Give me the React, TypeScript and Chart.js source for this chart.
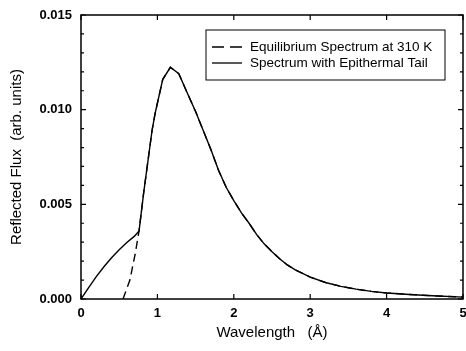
import React, { useEffect, useRef } from "react";
import { Chart, registerables } from "chart.js";

Chart.register(...registerables);

// Spectrum with epithermal tail (solid)
const tailWavelength = [0, 0.1, 0.2, 0.3, 0.4, 0.5, 0.6, 0.7, 0.76, 0.82, 0.93, 0.97, 1.07, 1.17, 1.28, 1.4, 1.5, 1.58, 1.7, 1.8, 1.9, 2.0, 2.1, 2.2, 2.3, 2.4, 2.5, 2.6, 2.7, 2.8, 2.9, 3.0, 3.2, 3.4, 3.6, 3.8, 4.0, 4.3, 4.6, 5.0];
const tailFlux = [0, 0.0006, 0.00118, 0.0017, 0.00218, 0.0026, 0.00298, 0.00332, 0.0036, 0.0056, 0.0089, 0.0098, 0.0116, 0.01224, 0.0119, 0.0108, 0.0099, 0.0091, 0.0079, 0.0068, 0.0059, 0.0052, 0.00455, 0.004, 0.0034, 0.0029, 0.0025, 0.00213, 0.0018, 0.00155, 0.00135, 0.00116, 0.00087, 0.00067, 0.00052, 0.0004, 0.00032, 0.00024, 0.00017, 0.0001];

// Equilibrium spectrum at 310 K (dashed): its own rise, then it joins the solid curve at 0.76 Å
const eqRiseWavelength = [0.55, 0.64, 0.71];
const eqRiseFlux = [0, 0.001, 0.0024];
const eqJoinWavelength = 0.76;

const xTicks = [0, 1, 2, 3, 4, 5];
const yMajorTicks = [0, 0.005, 0.01, 0.015];
const yMinorTicks = [0.001, 0.002, 0.003, 0.004, 0.006, 0.007, 0.008, 0.009, 0.011, 0.012, 0.013, 0.014];

const seriesLabels = ["Equilibrium Spectrum at 310 K", "Spectrum with Epithermal Tail"];
const xTitle = "Wavelength   (Å)";
const yTitle = "Reflected Flux  (arb. units)";

const FONT = "'Liberation Sans', Arial, Helvetica, sans-serif";

const frameTicksPlugin = {
  id: "frameTicks",
  afterDatasetsDraw(chart: any) {
    const { ctx, chartArea: a, scales } = chart;
    const xs = scales.x;
    const ys = scales.y;
    ctx.save();
    ctx.strokeStyle = "#000";
    ctx.lineWidth = 1.5;
    ctx.strokeRect(a.left, a.top, a.right - a.left, a.bottom - a.top);
    ctx.lineWidth = 1.2;
    ctx.beginPath();
    xTicks.forEach((v) => {
      const px = xs.getPixelForValue(v);
      ctx.moveTo(px, a.bottom);
      ctx.lineTo(px, a.bottom - 5);
      ctx.moveTo(px, a.top);
      ctx.lineTo(px, a.top + 5);
    });
    yMajorTicks.forEach((v) => {
      const py = ys.getPixelForValue(v);
      ctx.moveTo(a.left, py);
      ctx.lineTo(a.left + 5, py);
      ctx.moveTo(a.right, py);
      ctx.lineTo(a.right - 5, py);
    });
    yMinorTicks.forEach((v) => {
      const py = ys.getPixelForValue(v);
      ctx.moveTo(a.left, py);
      ctx.lineTo(a.left + 3, py);
      ctx.moveTo(a.right, py);
      ctx.lineTo(a.right - 3, py);
    });
    ctx.stroke();

    // legend box
    const bx = 206, by = 30, bw = 239, bh = 50;
    ctx.lineWidth = 1;
    ctx.strokeRect(bx, by, bw, bh);
    const rows = [47, 63];
    ctx.font = `13.5px ${FONT}`;
    ctx.fillStyle = "#000";
    ctx.textBaseline = "middle";
    ctx.textAlign = "left";
    chart.data.datasets.forEach((ds: any, i: number) => {
      const y = rows[i];
      ctx.beginPath();
      ctx.lineWidth = 1.3;
      ctx.setLineDash(ds.borderDash ? [12, 6] : []);
      ctx.moveTo(212, y);
      ctx.lineTo(242, y);
      ctx.stroke();
      ctx.setLineDash([]);
      ctx.fillText(ds.label, 250, y);
    });
    ctx.restore();
  },
};

export default function App() {
  const ref = useRef<HTMLCanvasElement>(null);
  useEffect(() => {
    document.body.style.margin = "0";
    const canvas = ref.current!;
    const tailPoints = tailWavelength.map((x, i) => ({ x, y: tailFlux[i] }));
    const eqPoints = [
      ...eqRiseWavelength.map((x, i) => ({ x, y: eqRiseFlux[i] })),
      ...tailPoints.filter((p) => p.x >= eqJoinWavelength),
    ];
    const chart = new Chart(canvas, {
      type: "line",
      data: {
        datasets: [
          {
            label: seriesLabels[0],
            data: eqPoints,
            borderColor: "#000",
            borderWidth: 1.4,
            borderDash: [8, 5],
            pointRadius: 0,
            tension: 0,
            fill: false,
          },
          {
            label: seriesLabels[1],
            data: tailPoints,
            borderColor: "#000",
            borderWidth: 1.4,
            pointRadius: 0,
            tension: 0,
            fill: false,
          },
        ],
      },
      options: {
        responsive: false,
        animation: false,
        layout: { padding: { top: 15, right: 3, left: 0, bottom: 0 } },
        plugins: { legend: { display: false }, tooltip: { enabled: false } },
        scales: {
          x: {
            type: "linear",
            min: 0,
            max: 5,
            grid: { display: false, drawTicks: false },
            border: { display: false },
            ticks: {
              stepSize: 1,
              padding: 7,
              color: "#000",
              font: { family: FONT, size: 13, weight: "bold" },
              maxRotation: 0,
              callback: (v: any) => String(v),
            },
            title: {
              display: true,
              text: xTitle,
              color: "#000",
              font: { family: FONT, size: 15 },
              padding: { top: 0, bottom: 9 },
            },
            afterFit: (s: any) => {
              s.height = 52;
              s.paddingLeft = 0;
              s.paddingRight = 0;
            },
          },
          y: {
            type: "linear",
            min: 0,
            max: 0.015,
            grid: { display: false, drawTicks: false },
            border: { display: false },
            ticks: {
              stepSize: 0.005,
              padding: 9,
              color: "#000",
              font: { family: FONT, size: 13, weight: "bold" },
              callback: (v: any) => Number(v).toFixed(3),
            },
            title: {
              display: true,
              text: yTitle,
              color: "#000",
              font: { family: FONT, size: 15 },
              padding: { top: 8, bottom: 0 },
            },
            afterFit: (s: any) => {
              s.width = 81;
              s.paddingTop = 0;
              s.paddingBottom = 0;
            },
          },
        },
      },
      plugins: [frameTicksPlugin],
    });
    return () => chart.destroy();
  }, []);
  return (
    <div style={{ position: "absolute", left: 0, top: 0, width: 466, height: 351, background: "#fff" }}>
      <canvas ref={ref} width={466} height={351} style={{ width: 466, height: 351 }} />
    </div>
  );
}
